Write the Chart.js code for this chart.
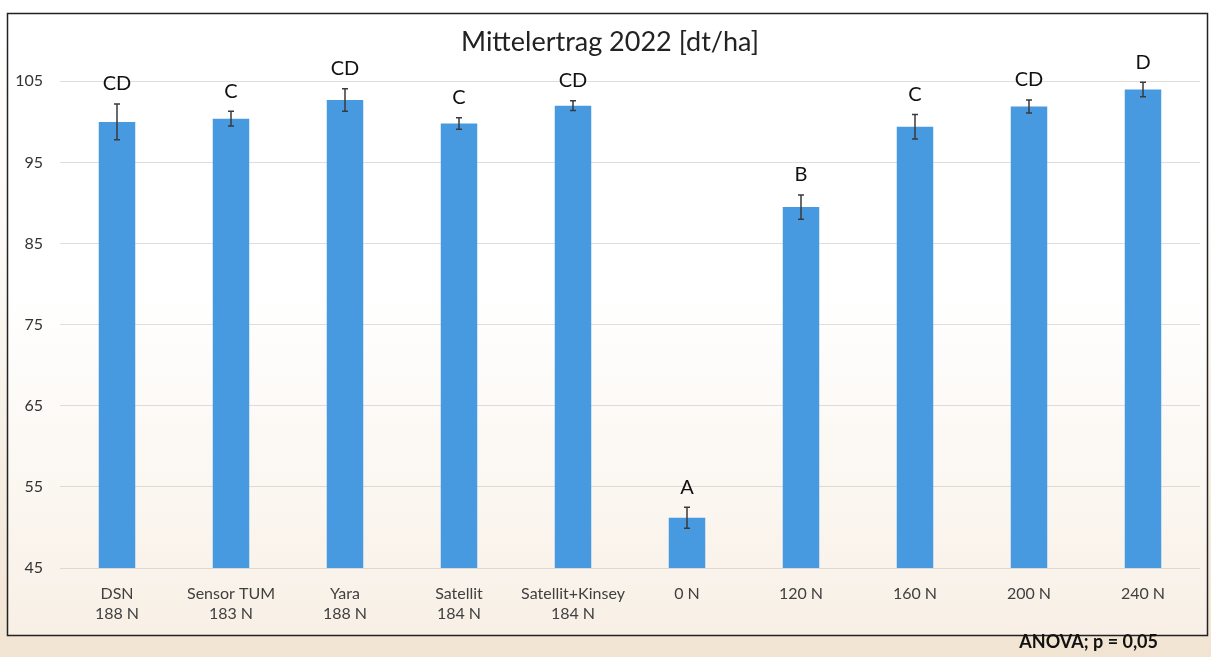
<!DOCTYPE html>
<html>
<head>
<meta charset="utf-8">
<script src="https://cdn.jsdelivr.net/npm/chart.js@4"></script>
<style>
  html, body { margin: 0; padding: 0; background: #fff; }
  #wrap { width: 1211px; height: 657px; }
</style>
</head>
<body>
<div id="wrap"><canvas id="ertragchart" width="1211" height="657"></canvas></div>
<script>
// data
const categories = [
  ['DSN', '188 N'], ['Sensor TUM', '183 N'], ['Yara', '188 N'], ['Satellit', '184 N'],
  ['Satellit+Kinsey', '184 N'], '0 N', '120 N', '160 N', '200 N', '240 N'
];
const ertrag = [100.0, 100.4, 102.7, 99.8, 102.0, 51.2, 89.5, 99.4, 101.9, 104.0];
const fehler = [2.2, 0.9, 1.4, 0.7, 0.6, 1.3, 1.5, 1.5, 0.8, 0.9];
const gruppen = ['CD', 'C', 'CD', 'C', 'CD', 'A', 'B', 'C', 'CD', 'D'];
const yTicks = [45, 55, 65, 75, 85, 95, 105];
const titel = 'Mittelertrag 2022 [dt/ha]';

// background, frame, title, note
const hintergrund = {
  id: 'hintergrund',
  beforeDraw(chart) {
    const ctx = chart.ctx;
    ctx.save();
    let g = ctx.createLinearGradient(0, 0, 0, 657);
    g.addColorStop(0, '#ffffff');
    g.addColorStop(0.35, '#fdfbf8');
    g.addColorStop(1, '#f1e4d2');
    ctx.fillStyle = g;
    ctx.fillRect(0, 0, 1211, 657);
    g = ctx.createLinearGradient(0, 13, 0, 636);
    g.addColorStop(0, '#ffffff');
    g.addColorStop(0.45, '#ffffff');
    g.addColorStop(1, '#f8f0e6');
    ctx.fillStyle = g;
    ctx.fillRect(7, 13, 1200, 623);
    ctx.restore();
  },
  afterDraw(chart) {
    const ctx = chart.ctx;
    ctx.save();
    ctx.strokeStyle = '#222';
    ctx.lineWidth = 1.5;
    ctx.strokeRect(7.5, 13.5, 1200, 622);
    ctx.fillStyle = '#222';
    ctx.font = '27px Lato';
    ctx.textAlign = 'center';
    ctx.textBaseline = 'middle';
    ctx.fillText(titel, 610, 42);
    ctx.fillStyle = '#111';
    ctx.font = 'bold 18px Lato';
    ctx.textAlign = 'right';
    ctx.fillText('ANOVA; p = 0,05', 1158, 642);
    ctx.restore();
  }
};

// error bars and letters
const fehlerbalken = {
  id: 'fehlerbalken',
  afterDatasetsDraw(chart) {
    const ctx = chart.ctx;
    const y = chart.scales.y;
    const meta = chart.getDatasetMeta(0);
    ctx.save();
    meta.data.forEach((bar, i) => {
      const oben = y.getPixelForValue(ertrag[i] + fehler[i]);
      const unten = y.getPixelForValue(ertrag[i] - fehler[i]);
      ctx.strokeStyle = '#3a3a3a';
      ctx.lineWidth = 1.5;
      ctx.beginPath();
      ctx.moveTo(bar.x, oben); ctx.lineTo(bar.x, unten);
      ctx.moveTo(bar.x - 3, oben); ctx.lineTo(bar.x + 3, oben);
      ctx.moveTo(bar.x - 3, unten); ctx.lineTo(bar.x + 3, unten);
      ctx.stroke();
      ctx.fillStyle = '#111';
      ctx.font = '20px Lato';
      ctx.textAlign = 'center';
      ctx.textBaseline = 'middle';
      ctx.fillText(gruppen[i], bar.x, oben - 20);
    });
    ctx.restore();
  }
};

const ertragdata = {
  labels: categories,
  datasets: [{
    label: 'Mittelertrag',
    data: ertrag,
    backgroundColor: '#489ae0',
    borderWidth: 0,
    barPercentage: 0.32,
    categoryPercentage: 1
  }]
};

// config
const ertragconfig = {
  type: 'bar',
  data: ertragdata,
  options: {
    responsive: false,
    animation: false,
    layout: { padding: { left: 0, right: 11, top: 57, bottom: 0 } },
    plugins: {
      legend: { display: false },
      tooltip: { enabled: false },
      title: { display: false }
    },
    scales: {
      x: {
        grid: { display: false },
        border: { display: false },
        ticks: {
          color: '#404040',
          font: { family: 'Lato', size: 16, lineHeight: 1.3 },
          padding: 7,
          maxRotation: 0,
          autoSkip: false
        },
        afterFit(scale) { scale.height = 89; }
      },
      y: {
        min: 45,
        max: 108,
        border: { display: false },
        grid: { color: 'rgba(190,190,190,0.5)', drawTicks: false },
        ticks: {
          color: '#333',
          font: { family: 'Lato', size: 16 },
          padding: 17
        },
        afterBuildTicks(scale) { scale.ticks = yTicks.map(v => ({ value: v })); },
        afterFit(scale) { scale.width = 60; }
      }
    }
  },
  plugins: [hintergrund, fehlerbalken]
};

// render init block
const ertragchart = new Chart(
  document.getElementById('ertragchart'),
  ertragconfig
);
</script>
</body>
</html>
